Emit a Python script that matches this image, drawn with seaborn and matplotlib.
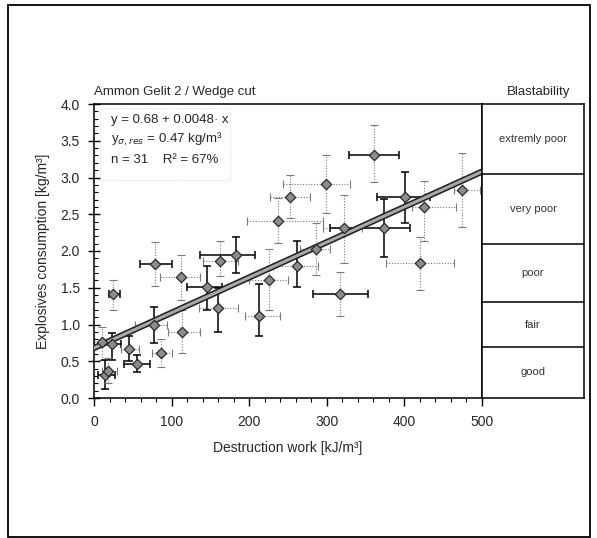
import matplotlib
matplotlib.use("Agg")
import matplotlib.pyplot as plt
from matplotlib.patches import Rectangle
from matplotlib.ticker import MultipleLocator
import pandas as pd
import seaborn as sns

# measured points (destruction work vs explosives consumption)
WORK = [10, 23, 14, 18, 25, 45, 56, 78, 77, 86, 112, 114, 145, 160, 162, 183,
        212, 225, 237, 253, 262, 286, 299, 317, 322, 361, 374, 401, 420, 425, 474]
CONSUMPTION = [0.76, 0.74, 0.31, 0.37, 1.41, 0.66, 0.46, 1.82, 0.99, 0.61, 1.64, 0.90,
               1.51, 1.22, 1.87, 1.94, 1.11, 1.61, 2.41, 2.73, 1.80, 2.03, 2.91, 1.42,
               2.31, 3.31, 2.31, 2.73, 1.83, 2.60, 2.83]
WORK_LO = [0, 10, 5, 10, 19, 35, 39, 59, 53, 75, 85, 95, 120, 135, 140, 137,
           195, 200, 197, 227, 231, 266, 243, 282, 295, 329, 304, 365, 376, 410, 464]
WORK_HI = [25, 35, 27, 30, 33, 58, 72, 100, 94, 100, 137, 137, 165, 185, 185, 207,
           240, 250, 295, 278, 289, 304, 330, 353, 345, 393, 407, 433, 464, 467, 497]
CONS_LO = [0.52, 0.52, 0.12, 0.20, 1.20, 0.50, 0.36, 1.52, 0.75, 0.42, 1.33, 0.61,
           1.20, 0.90, 1.66, 1.70, 0.85, 1.20, 2.11, 2.45, 1.51, 1.67, 2.52, 1.12,
           1.84, 2.94, 1.92, 2.38, 1.47, 2.13, 2.33]
CONS_HI = [0.97, 0.88, 0.52, 0.55, 1.60, 0.85, 0.58, 2.12, 1.24, 0.80, 1.95, 1.20,
           1.80, 1.50, 2.13, 2.19, 1.55, 2.03, 2.72, 3.03, 2.13, 2.38, 3.30, 1.72,
           2.76, 3.71, 2.71, 3.07, 2.19, 2.95, 3.33]

# regression from the chart annotation
INTERCEPT = 0.68
SLOPE = 0.0048
REG_X = [0, 500]

# blastability classes (upper/lower bounds in kg/m3)
CLASS_NAMES = ["extremly poor", "very poor", "poor", "fair", "good"]
CLASS_BOUNDS = [4.0, 3.05, 2.1, 1.3, 0.7, 0.0]

# line style of each error bar (True = solid black, False = dotted grey)
H_SOLID = [False, True, True, False, True, False, True, True, False, False, False, False,
           True, False, False, True, False, False, False, False, False, False, False, True,
           False, True, True, True, False, False, False]
V_SOLID = [False, True, True, False, False, True, True, False, True, False, False, False,
           True, True, False, True, True, False, False, False, True, False, False, False,
           False, False, True, True, False, False, False]

sns.set_theme(style="white")
plt.rcParams["font.family"] = ["Liberation Sans", "DejaVu Sans"]

df = pd.DataFrame({"work": WORK, "cons": CONSUMPTION})
reg = pd.DataFrame({"work": REG_X, "cons": [INTERCEPT + SLOPE * v for v in REG_X]})

W, H = 597, 538
fig = plt.figure(figsize=(W / 100, H / 100), dpi=100)
ax = fig.add_axes([94 / W, 1 - 398 / H, (482 - 94) / W, (398 - 104) / H])

for i in range(len(WORK)):
    x, y = WORK[i], CONSUMPTION[i]
    for horiz, solid in ((True, H_SOLID[i]), (False, V_SOLID[i])):
        kw = dict(color="black", lw=1.1, ls="-") if solid else dict(color="#7a7a7a", lw=0.8, ls=(0, (1, 1.5)))
        if horiz:
            err = [[x - WORK_LO[i]], [WORK_HI[i] - x]]
            eb = ax.errorbar([x], [y], xerr=err, fmt="none", ecolor=kw["color"],
                             elinewidth=kw["lw"], capsize=3, capthick=kw["lw"], zorder=2)
        else:
            err = [[y - CONS_LO[i]], [CONS_HI[i] - y]]
            eb = ax.errorbar([x], [y], yerr=err, fmt="none", ecolor=kw["color"],
                             elinewidth=kw["lw"], capsize=3, capthick=kw["lw"], zorder=2)
        for coll in eb[2]:
            coll.set_linestyle(kw["ls"])

sns.lineplot(data=reg, x="work", y="cons", ax=ax, color="#222222", lw=4.5, zorder=3)
sns.lineplot(data=reg, x="work", y="cons", ax=ax, color="#a8a8a8", lw=2.2, zorder=3)
sns.scatterplot(data=df, x="work", y="cons", ax=ax, marker="D", s=28,
                color="#8c8c8c", edgecolor="#2a2a2a", linewidth=0.9, zorder=4)

ax.set_xlim(0, 500)
ax.set_ylim(0, 4.0)
ax.xaxis.set_major_locator(MultipleLocator(100))
ax.xaxis.set_minor_locator(MultipleLocator(20))
ax.yaxis.set_major_locator(MultipleLocator(0.5))
ax.yaxis.set_minor_locator(MultipleLocator(0.1))
ax.yaxis.set_major_formatter(plt.FuncFormatter(lambda v, p: f"{v:.1f}"))
ax.tick_params(axis="x", which="major", direction="out", length=6, width=1, labelsize=10, pad=6, color="black")
ax.tick_params(axis="x", which="minor", direction="out", length=3, width=0.8, color="black")
ax.tick_params(axis="y", which="major", direction="inout", length=8, width=1, labelsize=10, pad=6, color="black")
ax.tick_params(axis="y", which="minor", direction="in", length=3, width=0.8, color="black")
ax.tick_params(bottom=True, left=True, which="both")
for side in ax.spines.values():
    side.set_color("black")
    side.set_linewidth(1.1)

ax.set_xlabel("Destruction work [kJ/m³]", fontsize=10, labelpad=9)
ax.set_ylabel("Explosives consumption [kg/m³]", fontsize=10, labelpad=8)
ax.text(0, 1.02, "Ammon Gelit 2 / Wedge cut", transform=ax.transAxes, fontsize=9.5, ha="left", va="bottom")

ax.text(0.045, 0.945, "y = 0.68 + 0.0048· x", transform=ax.transAxes, fontsize=9.5, va="center")
ax.text(0.045, 0.878, r"y$_{\sigma,res}$ = 0.47 kg/m³", transform=ax.transAxes, fontsize=9.5, va="center")
ax.text(0.045, 0.81, "n = 31    R² = 67%", transform=ax.transAxes, fontsize=9.5, va="center")
ax.add_patch(Rectangle((0.015, 0.74), 0.335, 0.245, transform=ax.transAxes, fill=False,
                       lw=0.5, ls=(0, (1, 3)), edgecolor="#b0b0b0"))

# blastability column
bx = fig.add_axes([482 / W, 1 - 398 / H, (584 - 482) / W, (398 - 104) / H])
bx.set_xlim(0, 1)
bx.set_ylim(0, 4.0)
bx.set_xticks([])
bx.set_yticks([])
for side in bx.spines.values():
    side.set_color("black")
    side.set_linewidth(1.1)
for b in CLASS_BOUNDS[1:-1]:
    bx.axhline(b, color="black", lw=1.1)
for name, top, bottom in zip(CLASS_NAMES, CLASS_BOUNDS[:-1], CLASS_BOUNDS[1:]):
    bx.text(0.5, (top + bottom) / 2, name, ha="center", va="center", fontsize=8, color="#333333")
bx.text(0.55, 1.02, "Blastability", transform=bx.transAxes, ha="center", va="bottom", fontsize=9.5)

fig.add_artist(Rectangle((8 / W, 1 - 537 / H), (590 - 8) / W, (537 - 5) / H,
                         transform=fig.transFigure, fill=False, lw=1.3, edgecolor="black"))

fig.savefig("out.png", dpi=100)
